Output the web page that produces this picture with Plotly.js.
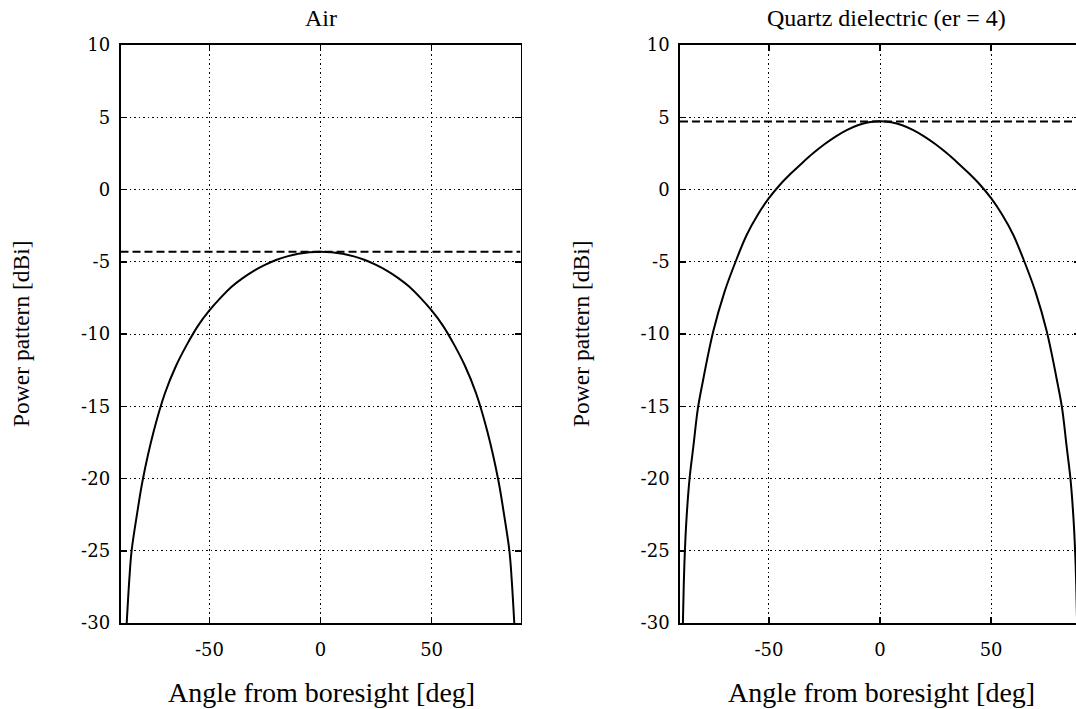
<!DOCTYPE html>
<html>
<head>
<meta charset="utf-8">
<script src="https://cdn.plot.ly/plotly-3.0.1.min.js"></script>
<style>
html,body{margin:0;padding:0;overflow:hidden;background:#fff;}
#chart{width:1080px;height:709px;}
</style>
</head>
<body>
<div id="chart"></div>
<script>
// ---- data ----
const airAngle = [-87.2, -86, -85, -82.5, -80, -75, -70, -65, -60, -55, -50, -45, -40, -35, -30, -25, -20, -15, -10, -5, 0,
                  5, 10, 15, 20, 25, 30, 35, 40, 45, 50, 55, 60, 65, 70, 75, 80, 82.5, 85, 86, 87.2];
const airGain  = [-30, -26.9, -25, -22.4, -20.1, -16.7, -14.1, -12.2, -10.7, -9.4, -8.37, -7.5, -6.73, -6.13, -5.63, -5.22, -4.88, -4.63, -4.45, -4.34, -4.3,
                  -4.34, -4.45, -4.63, -4.88, -5.22, -5.63, -6.13, -6.73, -7.5, -8.37, -9.4, -10.7, -12.2, -14.1, -16.7, -20.1, -22.4, -25, -26.9, -30];
const airPeak = -4.3;

const quartzAngle = [-88.7, -88.3, -87.8, -87, -85.7, -84, -82, -80, -75, -70, -65, -60, -55, -50, -45, -40, -35, -30, -25, -20, -15, -10, -5, 0,
                     5, 10, 15, 20, 25, 30, 35, 40, 45, 50, 55, 60, 65, 70, 75, 80, 82, 84, 85.7, 87, 87.8, 88.3, 88.7];
const quartzGain  = [-30, -27.3, -25, -22.6, -20, -17.8, -15.2, -13.5, -9.8, -7.1, -5.0, -3.15, -1.75, -0.6, 0.33, 1.12, 1.84, 2.52, 3.13, 3.66, 4.11, 4.45, 4.65, 4.72,
                     4.65, 4.45, 4.11, 3.66, 3.13, 2.52, 1.84, 1.12, 0.33, -0.6, -1.75, -3.15, -5.0, -7.1, -9.8, -13.5, -15.2, -17.8, -20, -22.6, -25, -27.3, -30];
const quartzPeak = 4.7;

const angleLimits = [-90, 90];
const gainLimits = [-30, 10];
const xTickVals = [-50, 0, 50];
const xTickText = ['-50', '0', '50'];
const yTickVals = [10, 5, 0, -5, -10, -15, -20, -25, -30];
const yTickText = ['10', '5', '0', '-5', '-10', '-15', '-20', '-25', '-30'];

const titles = ['Air', 'Quartz dielectric (er = 4)'];
const xTitle = 'Angle from boresight [deg]';
const yTitle = 'Power pattern [dBi]';

// ---- layout ----
const W = 1080, H = 709;
const fx = p => p / W, fy = p => 1 - p / H;
const FONT = '"Liberation Serif", "Times New Roman", serif';
const TICKFONT = '"DejaVu Serif", serif';

const curveLine = {color: '#000', width: 2, shape: 'spline', smoothing: 1};
const dashLine = {color: '#000', width: 2, dash: '8px,4px'};

const traces = [
  {x: airAngle, y: airGain, xaxis: 'x', yaxis: 'y', mode: 'lines', line: curveLine, hoverinfo: 'skip'},
  {x: angleLimits, y: [airPeak, airPeak], xaxis: 'x', yaxis: 'y', mode: 'lines', line: dashLine, hoverinfo: 'skip'},
  {x: quartzAngle, y: quartzGain, xaxis: 'x2', yaxis: 'y2', mode: 'lines', line: curveLine, hoverinfo: 'skip'},
  {x: angleLimits, y: [quartzPeak, quartzPeak], xaxis: 'x2', yaxis: 'y2', mode: 'lines', line: dashLine, hoverinfo: 'skip'}
];

function xAx(domain, anchor) {
  return {
    domain: domain, anchor: anchor, range: angleLimits,
    tickmode: 'array', tickvals: xTickVals, ticktext: xTickText,
    ticks: 'inside', ticklen: 6, tickwidth: 1.5, tickcolor: '#000',
    showline: true, linecolor: '#000', linewidth: 1.8, mirror: 'ticks',
    showgrid: true, gridcolor: '#000', gridwidth: 1, griddash: '1.5px,3px',
    zeroline: false, ticklabelstandoff: 10,
    tickfont: {family: TICKFONT, size: 18, color: '#000'}
  };
}
function yAx(domain, anchor) {
  return {
    domain: domain, anchor: anchor, range: gainLimits,
    tickmode: 'array', tickvals: yTickVals, ticktext: yTickText,
    ticks: 'inside', ticklen: 6, tickwidth: 1.5, tickcolor: '#000',
    showline: true, linecolor: '#000', linewidth: 1.8, mirror: 'ticks',
    showgrid: true, gridcolor: '#000', gridwidth: 1, griddash: '1.5px,3px',
    zeroline: false, ticklabelstandoff: 5,
    tickfont: {family: TICKFONT, size: 18, color: '#000'}
  };
}

const yDom = [fy(623), fy(45)];
const leftX = [fx(120.5), fx(520.5)];
const rightX = [fx(680), fx(1080)];

function ann(text, x, y, size, angle) {
  return {text: text, x: fx(x), y: fy(y), xref: 'paper', yref: 'paper', showarrow: false,
    xanchor: 'center', yanchor: 'middle', textangle: angle || 0,
    font: {family: FONT, size: size, color: '#000'}};
}

const layout = {
  width: W, height: H,
  margin: {l: 0, r: 0, t: 0, b: 0},
  paper_bgcolor: '#fff', plot_bgcolor: '#fff',
  showlegend: false,
  xaxis: xAx(leftX, 'y'),
  yaxis: yAx(yDom, 'x'),
  xaxis2: xAx(rightX, 'y2'),
  yaxis2: yAx(yDom, 'x2'),
  annotations: [
    ann(titles[0], 321, 18, 24),
    ann(titles[1], 886, 18, 24),
    ann(xTitle, 321, 692, 28),
    ann(xTitle, 881, 692, 28),
    ann(yTitle, 21, 334, 23.5, -90),
    ann(yTitle, 581, 334, 23.5, -90)
  ]
};

Plotly.newPlot('chart', traces, layout, {staticPlot: true, displayModeBar: false});
</script>
</body>
</html>
